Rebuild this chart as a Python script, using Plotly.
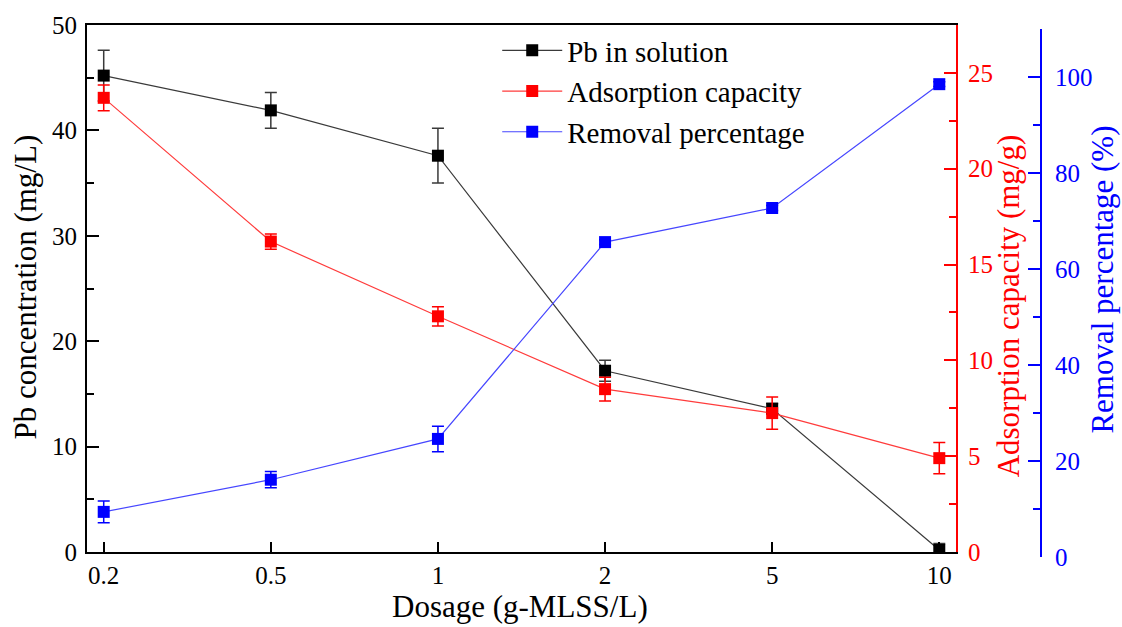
import plotly.graph_objects as go

# Dosage levels (g-MLSS/L), shown as evenly spaced categories
dosage = ["0.2", "0.5", "1", "2", "5", "10"]

# Residual Pb in solution (mg/L)
pb_solution = [45.2, 41.9, 37.6, 17.2, 13.6, 0.2]
pb_solution_err = [2.4, 1.7, 2.6, 1.0, 0.5, 0.6]

# Adsorption capacity (mg/g)
adsorption = [23.7, 16.2, 12.3, 8.5, 7.25, 4.9]
adsorption_err = [0.67, 0.4, 0.5, 0.62, 0.84, 0.82]

# Removal percentage (%)
removal = [9.4, 16.1, 24.6, 65.6, 72.7, 98.5]
removal_err = [2.25, 1.7, 2.65, 0.5, 0.5, 0.5]

FONT = "Liberation Serif, Times New Roman, serif"
TICK_SIZE = 25
TITLE_SIZE = 31
LEGEND_SIZE = 29

fig = go.Figure()

fig.add_trace(go.Scatter(
    x=dosage, y=pb_solution, name="Pb in solution", xaxis="x", yaxis="y",
    mode="lines+markers",
    line=dict(color="#3a3a3a", width=1.2),
    marker=dict(symbol="square", size=12, color="black"),
    error_y=dict(type="data", array=pb_solution_err, color="#3a3a3a",
                 thickness=1.5, width=6),
))
fig.add_trace(go.Scatter(
    x=dosage, y=adsorption, name="Adsorption capacity", xaxis="x", yaxis="y2",
    mode="lines+markers",
    line=dict(color="#ff3b3b", width=1.2),
    marker=dict(symbol="square", size=12, color="red"),
    error_y=dict(type="data", array=adsorption_err, color="red",
                 thickness=1.5, width=6),
))
fig.add_trace(go.Scatter(
    x=dosage, y=removal, name="Removal percentage", xaxis="x", yaxis="y3",
    mode="lines+markers",
    line=dict(color="#4646ff", width=1.2),
    marker=dict(symbol="square", size=12, color="blue"),
    error_y=dict(type="data", array=removal_err, color="blue",
                 thickness=1.5, width=6),
))

# plot area: x 87..1041 px, y 20..557 px
x_end = 869 / 954
y_main = [5 / 537, 1.0]       # Pb / adsorption axes
y_removal = [0.0, 533 / 537]  # removal axis sits slightly lower

fig.update_layout(
    width=1122, height=627,
    margin=dict(l=87, r=81, t=20, b=70),
    paper_bgcolor="white", plot_bgcolor="rgba(0,0,0,0)",
    font=dict(family=FONT, size=TICK_SIZE, color="black"),
    showlegend=True,
    legend=dict(
        x=0.43, y=1.0, xanchor="left", yanchor="top",
        bgcolor="rgba(0,0,0,0)", borderwidth=0,
        font=dict(family=FONT, size=LEGEND_SIZE, color="black"),
        itemwidth=60, tracegroupgap=0,
    ),
    xaxis=dict(
        domain=[0, x_end], type="category", range=[-0.1, 5.1], anchor="y",
        showline=True, linecolor="black", linewidth=2, mirror=True,
        ticks="inside", ticklen=10, tickwidth=1.5, tickcolor="black",
        showgrid=False, zeroline=False,
        tickfont=dict(family=FONT, size=TICK_SIZE, color="black"),
    ),
    yaxis=dict(
        domain=y_main, range=[0, 50], dtick=10, tick0=0,
        showline=True, linecolor="black", linewidth=2,
        ticks="inside", ticklen=12, tickwidth=1.5, tickcolor="black",
        minor=dict(dtick=5, ticks="inside", ticklen=7, tickwidth=1.5, tickcolor="black"),
        showgrid=False, zeroline=False, ticklabelstandoff=3,
        tickfont=dict(family=FONT, size=TICK_SIZE, color="black"),
    ),
    yaxis2=dict(
        overlaying="y", side="right", anchor="x",
        range=[0, 27.5], dtick=5, tick0=0,
        showline=True, linecolor="red", linewidth=2,
        ticks="inside", ticklen=12, tickwidth=1.5, tickcolor="red",
        minor=dict(dtick=2.5, ticks="inside", ticklen=7, tickwidth=1.5, tickcolor="red"),
        showgrid=False, zeroline=False, ticklabelstandoff=5,
        tickfont=dict(family=FONT, size=TICK_SIZE, color="red"),
    ),
    yaxis3=dict(
        domain=y_removal, side="right", anchor="free", position=1.0,
        range=[0, 110], dtick=20, tick0=0,
        showline=True, linecolor="blue", linewidth=2,
        ticks="inside", ticklen=12, tickwidth=1.5, tickcolor="blue",
        minor=dict(dtick=10, ticks="inside", ticklen=7, tickwidth=1.5, tickcolor="blue"),
        showgrid=False, zeroline=False, ticklabelstandoff=8,
        tickfont=dict(family=FONT, size=TICK_SIZE, color="blue"),
    ),
    annotations=[
        dict(text="Pb concentration (mg/L)", xref="paper", yref="paper",
             x=(26 - 87) / 954, y=(557 - 285) / 537, textangle=-90, showarrow=False,
             xanchor="center", yanchor="middle",
             font=dict(family=FONT, size=TITLE_SIZE, color="black")),
        dict(text="Adsorption capacity (mg/g)", xref="paper", yref="paper",
             x=(1008 - 87) / 954, y=(557 - 304) / 537, textangle=-90, showarrow=False,
             xanchor="center", yanchor="middle",
             font=dict(family=FONT, size=TITLE_SIZE, color="red")),
        dict(text="Removal percentage (%)", xref="paper", yref="paper",
             x=(1103 - 87) / 954, y=(557 - 277) / 537, textangle=-90, showarrow=False,
             xanchor="center", yanchor="middle",
             font=dict(family=FONT, size=TITLE_SIZE, color="blue")),
        dict(text="Dosage (g-MLSS/L)", xref="paper", yref="paper",
             x=(520 - 87) / 954, y=(557 - 607) / 537, showarrow=False,
             xanchor="center", yanchor="middle",
             font=dict(family=FONT, size=TITLE_SIZE, color="black")),
    ],
)

fig.write_html("out.html")
